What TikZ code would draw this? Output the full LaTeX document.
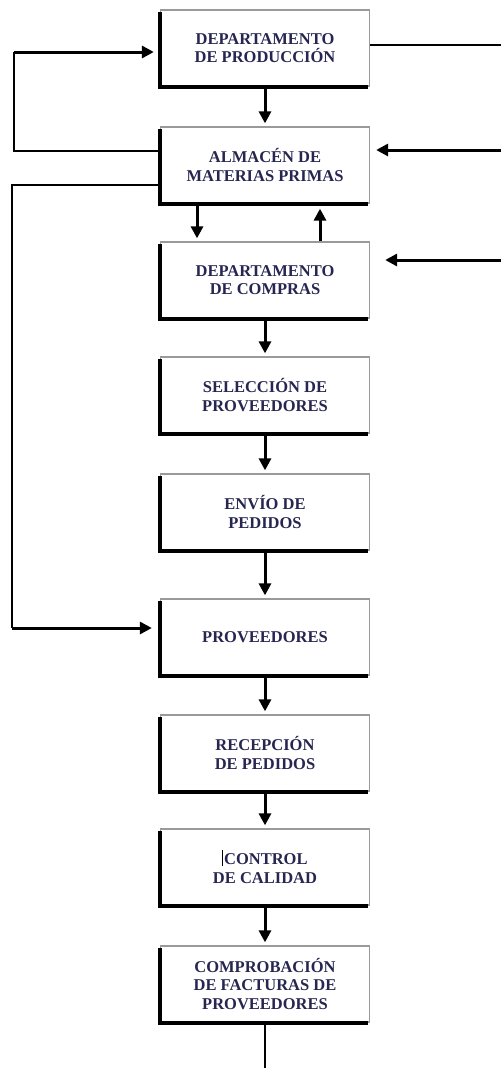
\documentclass[tikz,border=0pt]{standalone}
\usepackage{fontspec}
\setmainfont{Liberation Serif}
\usetikzlibrary{arrows.meta}
\definecolor{txt}{HTML}{262650}
\definecolor{rim}{HTML}{9A9A9A}
\begin{document}
\begin{tikzpicture}[x=1pt,y=-1pt,
  box/.style={draw=rim, line width=1.3pt, fill=white, minimum width=209pt,
    minimum height=76pt, inner sep=0pt, align=center,
    font=\fontsize{16.5}{18.5}\selectfont\bfseries, text=txt},
  flow/.style={line width=3pt, -{Triangle[length=12pt,width=12pt]}},
  link/.style={line width=1.4pt},
  shade/.style={line width=4pt, line cap=butt}
]
\useasboundingbox (0,0) rectangle (501,1068);

% process boxes
\node[box] (b1) at (265,48)  {DEPARTAMENTO\\DE PRODUCCIÓN};
\node[box] (b2) at (265,165) {ALMACÉN DE\\MATERIAS PRIMAS};
\node[box] (b3) at (265,280) {DEPARTAMENTO\\DE COMPRAS};
\node[box] (b4) at (265,395) {SELECCIÓN DE\\PROVEEDORES};
\node[box] (b5) at (265,512) {ENVÍO DE\\PEDIDOS};
\node[box] (b6) at (265,637) {PROVEEDORES};
\node[box] (b7) at (265,753) {RECEPCIÓN\\DE PEDIDOS};
\node[box] (b8) at (265,867) {{\color{black}\rule[-1.5pt]{0.7pt}{16pt}}\hspace{1pt}CONTROL\\DE CALIDAD};
\node[box] (b9) at (265,984) {COMPROBACIÓN\\DE FACTURAS DE\\PROVEEDORES};

% dark edge on the left and bottom of each box
\foreach \i in {1,...,9}
  \draw[shade] ([xshift=0.5pt,yshift=-3pt]b\i.north west) |- ([xshift=-2pt,yshift=-0.5pt]b\i.south east);

% main downward flow
\draw[flow] (b1.south) -- ([yshift=3pt]b2.north);
\draw[flow] ([xshift=-68pt]b2.south) -- ([xshift=-68pt,yshift=3pt]b3.north);
\draw[flow] ([xshift=55pt]b3.north) -- ([xshift=55pt,yshift=-5pt]b2.south);
\draw[flow] (b3.south) -- ([yshift=3pt]b4.north);
\draw[flow] (b4.south) -- ([yshift=3pt]b5.north);
\draw[flow] (b5.south) -- ([yshift=3pt]b6.north);
\draw[flow] (b6.south) -- ([yshift=3pt]b7.north);
\draw[flow] (b7.south) -- ([yshift=3pt]b8.north);
\draw[flow] (b8.south) -- ([yshift=3pt]b9.north);
\coordinate (tail) at (265,1068);
\draw[link] (b9.south) -- (tail);

% connections on the right
\coordinate (r1) at (501,45);
\coordinate (r2) at (501,150);
\coordinate (r3) at (501,260);
\draw[link] (b1.east |- r1) -- (r1);
\draw[flow] (r2) -- ([xshift=6pt]b2.east |- r2);
\draw[flow] (r3) -- ([xshift=15pt]b3.east |- r3);

% feedback loops on the left
\coordinate (l1a) at (14,151);
\coordinate (l1b) at (14,52);
\draw[link] (b2.west |- l1a) -- (l1a) -- (l1b);
\draw[flow] (l1b) -- ([xshift=-6pt]b1.west |- l1b);

\coordinate (l2a) at (12,185);
\coordinate (l2b) at (12,628);
\draw[link] (b2.west |- l2a) -- (l2a) -- (l2b);
\draw[flow] (l2b) -- ([xshift=-8pt]b6.west |- l2b);
\end{tikzpicture}
\end{document}
